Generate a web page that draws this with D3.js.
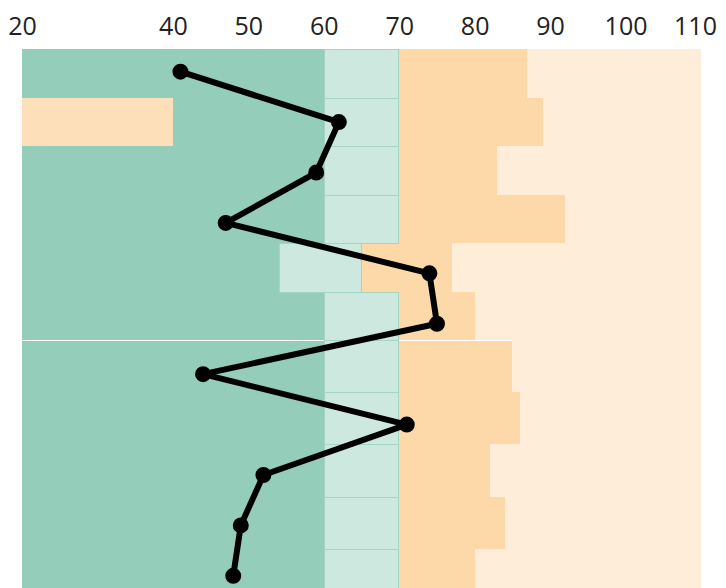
<!DOCTYPE html>
<html>
<head>
<meta charset="utf-8">
<script src="https://cdn.jsdelivr.net/npm/d3@7"></script>
<style>
  html, body { margin: 0; padding: 0; background: #fff; }
  svg { display: block; }
</style>
</head>
<body>
<svg id="chart" width="726" height="588"></svg>
<script>
// ---- data ----
const rows = ["1", "2", "3", "4", "5", "6", "7", "8", "9", "10", "11"];
const lowEnd = [0, 40, 0, 0, 0, 0, 0, 0, 0, 0, 0];             // peach low band (row 2)
const poorEnd = [60, 60, 60, 60, 54, 60, 60, 60, 60, 60, 60];    // dark green end
const fairEnd = [70, 70, 70, 70, 65, 70, 70, 70, 70, 70, 70];    // light green end
const goodEnd = [87, 89, 83, 92, 77, 80, 85, 86, 82, 84, 80];    // orange end
const values = [41, 62, 59, 47, 74, 75, 44, 71, 52, 49, 48];
const tickValues = [20, 40, 50, 60, 70, 80, 90, 100, 110];
const domainMin = 20, domainMax = 110;
const groupA = rows.slice(0, 6);
const groupB = rows.slice(6);

// ---- layout ----
const svg = d3.select("#chart");
const x = d3.scaleLinear().domain([domainMin, domainMax]).range([22, 701]);
const yA = d3.scaleBand().domain(groupA).range([49, 340]);
const yB = d3.scaleBand().domain(groupB).range([340, 601]);
const yRaw = r => groupA.includes(r) ? yA(r) : yB(r);
const bw = r => groupA.includes(r) ? yA.bandwidth() : yB.bandwidth();
const yTop = r => Math.round(yRaw(r));
const yH = r => Math.round(yRaw(r) + bw(r)) - Math.round(yRaw(r));
const yPt = d3.scaleBand().domain(rows).range([46.5, 601]);

const C = {
  dark: "#94cdb9",
  light: "#cde8df",
  lightStroke: "#a3d5c2",
  orange: "#fdd9a9",
  peach: "#fde0ba",
  pale: "#feeed9"
};

const data = rows.map((r, i) => ({
  r, low: lowEnd[i], poor: poorEnd[i], fair: fairEnd[i], good: goodEnd[i], v: values[i]
}));

const g = svg.append("g");

// pale (excellent) background
g.selectAll("rect.pale").data(data).join("rect")
  .attr("class", "pale")
  .attr("x", d => x(d.good)).attr("width", d => x(domainMax) - x(d.good))
  .attr("y", d => yTop(d.r)).attr("height", d => yH(d.r))
  .attr("fill", C.pale).attr("shape-rendering", "crispEdges");

// dark green
g.selectAll("rect.dark").data(data).join("rect")
  .attr("class", "dark")
  .attr("x", x(domainMin)).attr("width", d => x(d.poor) - x(domainMin))
  .attr("y", d => yTop(d.r)).attr("height", d => yH(d.r))
  .attr("fill", C.dark).attr("shape-rendering", "crispEdges");

// peach low band
g.selectAll("rect.low").data(data.filter(d => d.low > domainMin)).join("rect")
  .attr("class", "low")
  .attr("x", x(domainMin)).attr("width", d => x(d.low) - x(domainMin))
  .attr("y", d => yTop(d.r)).attr("height", d => yH(d.r))
  .attr("fill", C.peach).attr("shape-rendering", "crispEdges");

// orange
g.selectAll("rect.good").data(data).join("rect")
  .attr("class", "good")
  .attr("x", d => x(d.fair)).attr("width", d => x(d.good) - x(d.fair))
  .attr("y", d => yTop(d.r)).attr("height", d => yH(d.r))
  .attr("fill", C.orange).attr("shape-rendering", "crispEdges");

// white separator between groups (top edge of first row of group B)
const firstB = data[rows.indexOf(groupB[0])];
g.append("line")
  .attr("x1", x(domainMin)).attr("x2", x(firstB.good))
  .attr("y1", yTop(firstB.r) + 0.5).attr("y2", yTop(firstB.r) + 0.5)
  .attr("stroke", "#fff").attr("stroke-width", 1);

// light green
g.selectAll("rect.fair").data(data).join("rect")
  .attr("class", "fair")
  .attr("x", d => Math.round(x(d.poor)) + 0.5).attr("width", d => Math.round(x(d.fair)) - Math.round(x(d.poor)) - 1)
  .attr("y", d => yTop(d.r) + 0.5).attr("height", d => yH(d.r))
  .attr("fill", C.light)
  .attr("stroke", C.lightStroke).attr("stroke-width", 1);

// line + points
const line = d3.line().x(d => x(d.v)).y(d => yPt(d.r) + yPt.bandwidth() / 2);
g.append("path").datum(data)
  .attr("d", line)
  .attr("fill", "none").attr("stroke", "#000").attr("stroke-width", 6)
  .attr("stroke-linejoin", "round");

g.selectAll("circle.pt").data(data).join("circle")
  .attr("class", "pt")
  .attr("cx", d => x(d.v)).attr("cy", d => yPt(d.r) + yPt.bandwidth() / 2)
  .attr("r", 6)
  .attr("fill", "#000").attr("stroke", "#000").attr("stroke-width", 4);

// axis on top
const axis = d3.axisTop(x).tickValues(tickValues).tickSize(0).tickPadding(6)
  .tickFormat(d3.format("d"));
const ax = svg.append("g").attr("transform", "translate(0,41)").call(axis);
ax.select(".domain").remove();
ax.selectAll("text")
  .attr("font-family", "'Open Sans', sans-serif")
  .attr("font-size", 25)
  .attr("fill", "#222");
ax.selectAll(".tick").filter(d => d === domainMax).select("text").attr("dx", -6);
</script>
</body>
</html>
